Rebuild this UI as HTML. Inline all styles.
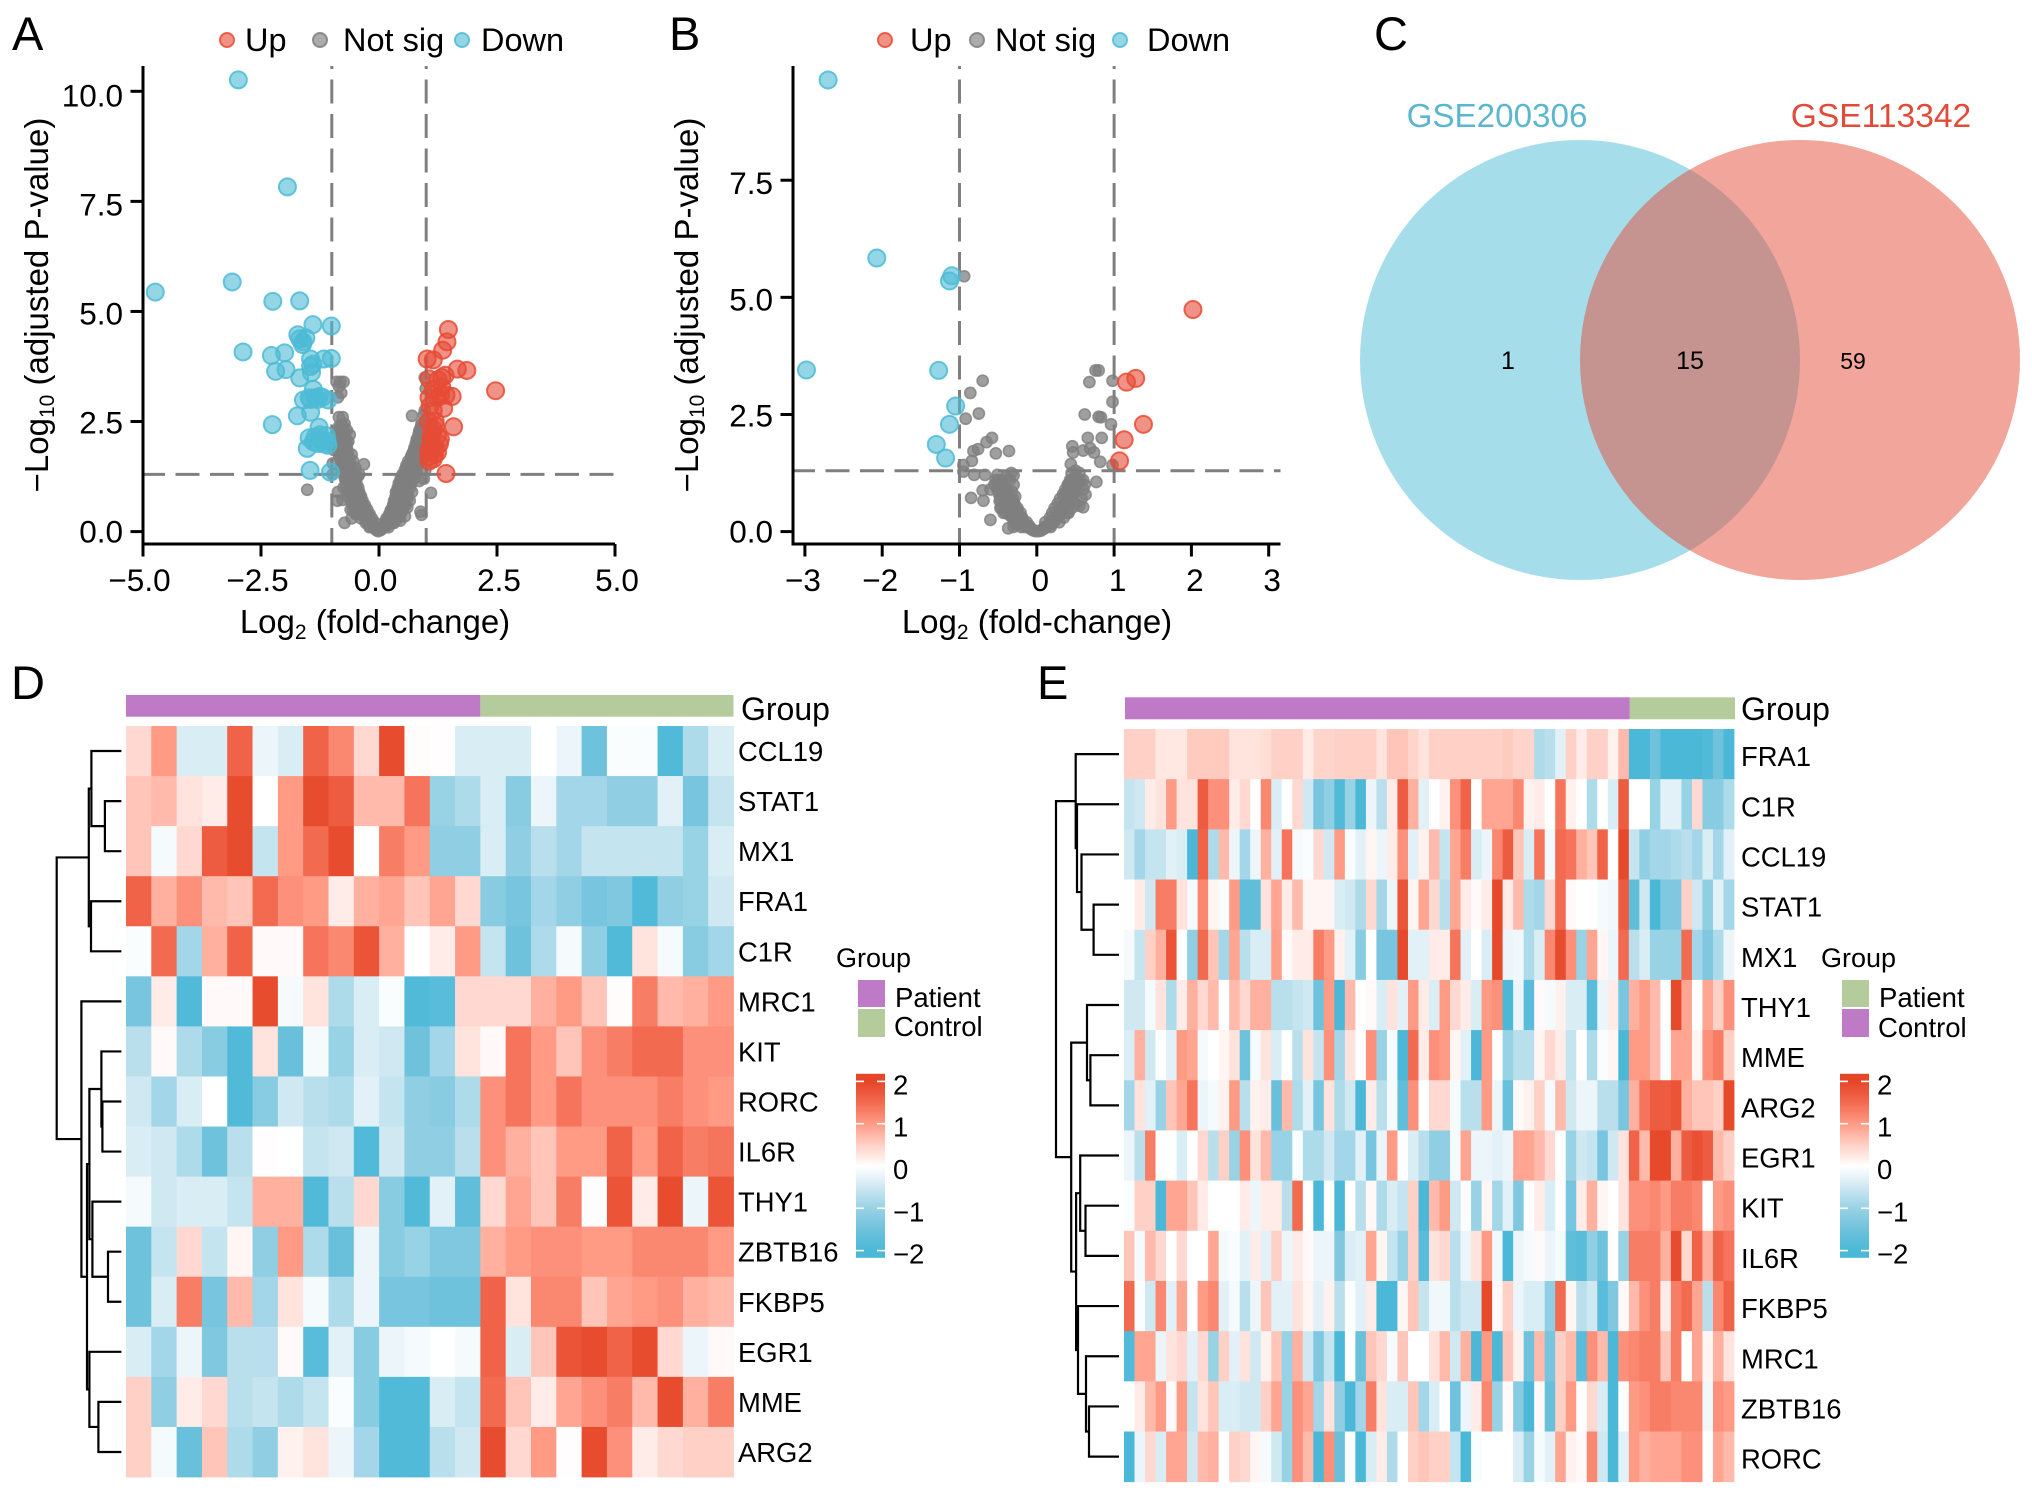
<!DOCTYPE html>
<html lang="en">
<head>
<meta charset="utf-8">
<title>Volcano plots, Venn diagram and heatmaps</title>
<style>
html,body{margin:0;padding:0;background:#fff;}
svg{display:block;font-family:"Liberation Sans",Arial,sans-serif;}
</style>
</head>
<body>
<svg id="fig" xmlns="http://www.w3.org/2000/svg" width="2032" height="1495" viewBox="0 0 2032 1495">
  <defs>
    <linearGradient id="ramp-d" x1="0" y1="0" x2="0" y2="1"></linearGradient>
    <linearGradient id="ramp-e" x1="0" y1="0" x2="0" y2="1"></linearGradient>
  </defs>
  <rect x="0" y="0" width="2032" height="1495" fill="#ffffff"/>

  <text x="12" y="50" font-size="47">A</text>
  <text x="669" y="50" font-size="47">B</text>
  <text x="1374" y="50" font-size="47">C</text>
  <text x="11" y="699" font-size="47">D</text>
  <text x="1037" y="699" font-size="47">E</text>

  <g id="panel-a">
    <text transform="translate(48,305) rotate(-90)" text-anchor="middle" font-size="33">−Log<tspan font-size="21" dy="6">10</tspan><tspan dy="-6"> (adjusted P-value)</tspan></text>
    <text x="375" y="633" text-anchor="middle" font-size="33">Log<tspan font-size="21" dy="6">2</tspan><tspan dy="-6"> (fold-change)</tspan></text>
    <text x="245" y="51" font-size="32.5">Up</text>
    <text x="343" y="51" font-size="32.5">Not sig</text>
    <text x="481" y="51" font-size="32.5">Down</text>
  </g>
  <g id="panel-b">
    <text transform="translate(698,305) rotate(-90)" text-anchor="middle" font-size="33">−Log<tspan font-size="21" dy="6">10</tspan><tspan dy="-6"> (adjusted P-value)</tspan></text>
    <text x="1037" y="633" text-anchor="middle" font-size="33">Log<tspan font-size="21" dy="6">2</tspan><tspan dy="-6"> (fold-change)</tspan></text>
    <text x="910" y="51" font-size="32.5">Up</text>
    <text x="995" y="51" font-size="32.5">Not sig</text>
    <text x="1147" y="51" font-size="32.5">Down</text>
  </g>

  <g id="panel-c">
    <circle cx="1580" cy="360" r="220" fill="#4DBBD5" fill-opacity="0.5"/>
    <circle cx="1800" cy="360" r="220" fill="#E64B35" fill-opacity="0.5"/>
    <text x="1497" y="127" text-anchor="middle" font-size="33.2" fill="#5BB7CF">GSE200306</text>
    <text x="1881" y="127" text-anchor="middle" font-size="33.6" fill="#E04B3A">GSE113342</text>
    <text x="1508" y="369" text-anchor="middle" font-size="25">1</text>
    <text x="1690" y="369" text-anchor="middle" font-size="25">15</text>
    <text x="1853" y="369" text-anchor="middle" font-size="23">59</text>
  </g>

  <g id="panel-d">
    <text x="741" y="720" font-size="32">Group</text>
    <text x="836" y="967" font-size="27">Group</text>
    <rect x="858" y="980" width="27" height="27" fill="#BE7AC6"/>
    <rect x="858" y="1009" width="27" height="28" fill="#B4CC9B"/>
    <text x="895" y="1007" font-size="27.5">Patient</text>
    <text x="894" y="1036" font-size="27.5">Control</text>
  </g>
  <g id="panel-e">
    <text x="1741" y="720" font-size="32">Group</text>
    <text x="1821" y="967" font-size="27">Group</text>
    <rect x="1842" y="980" width="27" height="27" fill="#B4CC9B"/>
    <rect x="1842" y="1009" width="27" height="28" fill="#BE7AC6"/>
    <text x="1879" y="1007" font-size="27.5">Patient</text>
    <text x="1878" y="1037" font-size="27.5">Control</text>
  </g>
</svg>

<script>
/* ---------- Volcano A data ---------- */
const aXTicks=[-5,-2.5,0,2.5,5];
const aXLabels=['−5.0','−2.5','0.0','2.5','5.0'];
const aYTicks=[0,2.5,5,7.5,10];
const aYLabels=['0.0','2.5','5.0','7.5','10.0'];
const aDownX=[-2.98,-1.94,-3.11,-4.74,-2.25,-1.68,-1.40,-1.01,-1.72,-1.61,-1.68,-2.88,-2.28,-2.0,-1.45,-1.01,-1.17,-2.19,-1.97,-1.43,-1.68,-1.39,-1.48,-1.26,-1.6,-1.35,-1.08,-1.73,-1.45,-2.26,-1.27,-1.48,-1.26,-1.12,-1.39,-1.17,-1.52,-1.08,-1.46,-1.03,-1.25,-1.3,-1.2,-1.35,-1.1,-1.45,-1.3,-1.2,-1.55,-1.62,-1.4,-1.45];
const aDownY=[10.26,7.83,5.67,5.44,5.23,5.24,4.70,4.67,4.47,4.31,4.38,4.08,4.0,4.06,3.92,3.93,3.92,3.64,3.68,3.61,3.49,3.23,3.04,3.07,2.99,3.04,2.99,2.63,2.71,2.43,2.37,2.13,2.08,2.18,2.04,1.99,1.89,1.96,1.39,1.35,2.2,2.0,2.05,2.15,2.05,3.0,3.0,3.05,4.4,4.25,3.8,3.75];
const aUpX=[1.47,1.44,1.35,1.02,1.15,1.66,1.86,1.33,1.06,2.47,1.33,1.15,1.55,1.24,1.06,1.37,1.15,1.19,1.58,1.15,1.24,1.1,1.28,1.15,1.24,1.06,1.15,1.06,1.42,1.1,1.2,1.05,1.12,1.2,1.05,1.3,1.18,1.08,1.25,1.4,1.42,1.3];
const aUpY=[4.59,4.31,4.12,3.92,3.9,3.69,3.66,3.5,3.47,3.2,3.28,3.23,3.07,3.04,3.04,2.8,2.75,2.51,2.38,2.32,2.18,2.13,1.99,1.89,1.8,1.7,1.65,1.6,1.32,2.0,1.9,1.85,2.25,2.4,2.5,2.1,1.75,2.85,3.45,3.55,3.1,3.1];
const aNsX=[-.02,-.05,-.08,-.1,-.13,-.15,-.18,-.2,-.22,-.25,-.27,-.3,-.3,-.33,-.35,-.37,-.4,-.4,-.42,-.45,-.47,-.5,-.5,-.5,-.53,-.55,-.55,-.58,-.6,-.6,-.6,-.62,-.65,-.65,-.65,-.32,-.45,-.42,-.68,-.7,-.7,-.72,-.72,-.72,-.75,-.75,-.75,-.78,-.8,-.8,-.82,-.85,-.62,-.65,-.58,-.55,-.5,-.68,-.73,-.77,-.85,-.75,-.9,-.85,-.8,-.87,-.82,-.93,-.95,-.98,-.98,-.87,-.77,-.73,-1.52,-.88,.03,.06,.1,.12,.15,.18,.2,.22,.25,.28,.3,.32,.35,.35,.38,.4,.42,.45,.45,.48,.5,.5,.52,.55,.55,.58,.6,.62,.65,.68,.7,.7,.72,.75,.78,.8,.82,.85,.85,.88,.9,.92,.95,.95,.7,.98,.98,.92,.85,.95,.98,1.1,.88,.9,.97,.99,.97,.4,.6,.65,.55,.3,.45];
const aNsY=[.01,.03,.06,.1,.15,.2,.12,.25,.35,.2,.4,.3,.5,.55,.4,.65,.5,.75,.85,.6,.95,.4,.8,1.05,1.15,.7,1.25,.3,.95,1.4,.5,1.15,1.5,.8,1.3,1.53,1.25,1.3,1.65,1.2,1.8,1.45,2.0,1.9,2.1,1.0,1.65,2.25,2.4,1.9,2.05,2.3,2.2,2.05,1.75,1.6,1.45,2.3,2.45,2.6,2.6,3.4,3.4,3.3,3.15,3.05,3.4,2.0,1.85,1.3,1.55,.9,.72,.2,.95,.7,.03,.06,.1,.2,.12,.28,.2,.38,.48,.32,.55,.65,.45,.78,.9,.6,1.0,.8,1.1,1.2,.5,1.0,1.3,.75,1.2,1.4,1.05,1.5,1.2,1.65,.9,1.75,1.35,1.85,1.55,2.0,2.1,2.25,1.8,2.35,2.45,2.15,2.65,2.0,2.63,2.5,2.35,1.75,1.15,1.2,1.4,.88,.45,.38,3.5,3.25,2.75,.3,.55,.7,.35,.2,.25];
const aNsDenseX=[-.1,-.2,.1,.2,-.08,-.15,-.28,.12,.25,.32,-.15,-.22,-.38,.16,.24,.38,-.2,-.32,-.46,.22,.36,.46,-.25,-.38,-.55,.26,.38,.5,-.3,-.38,-.55,.3,.45,.56,-.35,-.48,-.6,.32,.42,.58,-.38,-.46,-.56,.36,.5,.62,-.42,-.52,-.64,.36,.48,.6,-.44,-.55,-.68,.4,.56,.66,-.48,-.58,-.7,.42,.52,.68,-.5,-.6,-.72,.46,.6,.74,-.54,-.66,-.75,.5,.6,.72,-.55,-.68,-.78,.55,.65,.8,-.6,-.72,-.8,.58,.7,.82,-.62,-.7,-.8,.62,.72,.88,-.64,-.75,-.84,.68,.8,.9,-.66,-.76,-.85,.72,.82,.92,-.68,-.78,-.88,.75,.85,.95,-.68,-.8,.78,.88,.96,-.7,-.8,.8,.9,.98,-.72,-.84,.84,.92,-.75,-.8,.86,.96,-.76,-.84,.9,.96];
const aNsDenseY=[.1,.1,.1,.1,.2,.2,.2,.2,.2,.2,.3,.3,.3,.3,.3,.3,.4,.4,.4,.4,.4,.4,.5,.5,.5,.5,.5,.5,.6,.6,.6,.6,.6,.6,.7,.7,.7,.7,.7,.7,.8,.8,.8,.8,.8,.8,.9,.9,.9,.9,.9,.9,1,1,1,1,1,1,1.1,1.1,1.1,1.1,1.1,1.1,1.2,1.2,1.2,1.2,1.2,1.2,1.3,1.3,1.3,1.3,1.3,1.3,1.4,1.4,1.4,1.4,1.4,1.4,1.5,1.5,1.5,1.5,1.5,1.5,1.6,1.6,1.6,1.6,1.6,1.6,1.7,1.7,1.7,1.7,1.7,1.7,1.8,1.8,1.8,1.8,1.8,1.8,1.9,1.9,1.9,1.9,1.9,1.9,2,2,2,2,2,2.1,2.1,2.1,2.1,2.1,2.2,2.2,2.2,2.2,2.3,2.3,2.3,2.3,2.4,2.4,2.4,2.4];

/* ---------- Volcano B data ---------- */
const bXTicks=[-3,-2,-1,0,1,2,3];
const bXLabels=['−3','−2','−1','0','1','2','3'];
const bYTicks=[0,2.5,5,7.5];
const bYLabels=['0.0','2.5','5.0','7.5'];
const bDownX=[-2.7,-2.07,-1.1,-1.13,-2.98,-1.27,-1.05,-1.13,-1.3,-1.18];
const bDownY=[9.64,5.84,5.46,5.35,3.45,3.44,2.68,2.29,1.86,1.57];
const bUpX=[2.02,1.28,1.16,1.38,1.13,1.07];
const bUpY=[4.74,3.27,3.19,2.29,1.96,1.51];
const bNsX=[-.94,-.7,-.86,-.75,-.92,-.58,-.65,-.76,-.82,-.84,-.53,-.36,-.95,-.95,-.81,-.67,-.51,-.7,-.85,-.69,-.6,-.37,-.5,-.45,-.42,-.4,-.4,-.35,-.3,-.45,-.4,-.38,-.35,-.32,-.3,-.48,-.45,-.4,-.35,-.3,-.28,-.25,-.25,-.22,-.2,-.18,-.15,-.12,-.1,-.08,-.05,-.02,-.27,-.2,-.3,-.6,-.55,-.33,-.3,-.28,.66,.84,.62,.8,.83,.96,.68,.76,.8,.98,.98,.46,.69,.47,.6,.74,.82,.98,.44,.77,.63,.6,.5,.55,.45,.5,.47,.42,.45,.4,.38,.35,.32,.3,.3,.27,.25,.22,.2,.18,.15,.12,.1,.08,.05,.02,.35,.4,.5,.55,.58,.45,.5,.55,.6,.62,.6,.4,.35];
const bNsY=[5.45,3.22,2.96,2.52,2.41,2.0,1.91,1.76,1.72,1.51,1.67,1.72,1.42,1.28,1.21,1.21,1.21,.88,.72,.66,.25,.07,1.1,1.05,.95,.8,1.15,1.1,1.0,.8,.65,.55,.7,.85,.6,.65,.5,.4,.35,.4,.3,.45,.25,.3,.2,.25,.15,.1,.12,.06,.03,.01,.15,.1,.1,.9,1.0,1.25,1.2,.75,2.0,2.0,2.5,2.45,2.44,2.29,3.19,3.44,3.44,3.22,2.77,1.82,1.78,1.69,1.73,1.69,1.49,1.42,1.44,1.06,.79,.52,1.15,1.05,1.1,.95,.85,.95,.7,.8,.65,.55,.45,.5,.35,.4,.3,.2,.25,.15,.12,.1,.07,.05,.02,.01,.3,.4,.6,.55,.7,1.25,1.3,1.25,1.1,1.0,.9,1.0,.75];
const bNsDenseX=[-.09,-.16,.1,.18,-.13,-.23,-.3,.11,.21,.29,-.19,-.31,.17,.28,-.21,-.33,-.43,.2,.31,.41,-.25,-.37,-.47,.23,.35,.45,-.29,-.43,.27,.4,-.31,-.47,.3,.44,-.36,-.49,.34,.48,-.39,-.51,.37,.5,-.43,-.5,.41,.52,-.45,-.53,.43,.56];
const bNsDenseY=[.1,.1,.1,.1,.2,.2,.2,.2,.2,.2,.3,.3,.3,.3,.4,.4,.4,.4,.4,.4,.5,.5,.5,.5,.5,.5,.6,.6,.6,.6,.7,.7,.7,.7,.8,.8,.8,.8,.9,.9,.9,.9,1,1,1,1,1.1,1.1,1.1,1.1];

/* ---------- Heatmap D data ---------- */
const dGenes=['CCL19','STAT1','MX1','FRA1','C1R','MRC1','KIT','RORC','IL6R','THY1','ZBTB16','FKBP5','EGR1','MME','ARG2'];
const dPatientCount=14;
const dControlCount=10;
const dMatrix=[
[.4,1.0,-.4,-.4,1.6,-.2,-.4,1.6,1.2,.4,1.9,.03,.02,-.4,-.4,-.4,-.01,-.2,-1.5,-.05,-.05,-1.9,-.8,-.4],
[.6,.7,.3,.2,1.9,0,1.0,1.9,1.7,.7,.7,1.4,-1,-.8,-.4,-1.2,-.2,-.9,-.9,-1.1,-1.1,-.3,-1.4,-.6],
[.6,-.1,.4,1.7,1.9,-.6,1.0,1.5,1.9,0,1.3,1.0,-1.1,-1.1,-.4,-1.1,-.7,-.9,-.6,-.6,-.6,-.6,-1,-.4],
[1.6,.8,1.1,.7,.6,1.5,1.1,1.0,.2,.8,.9,.6,.9,.4,-1.2,-1.4,-.9,-1.1,-1.4,-1.3,-1.9,-1.1,-1,-.5],
[-.05,1.5,-.9,.8,1.6,.05,.05,1.4,1.2,1.8,.8,0,.2,1.0,-.6,-1.5,-.8,-.1,-1.1,-1.9,.3,-.1,-1.2,-.9],
[-1.4,.2,-1.9,.05,.05,1.9,-.1,.3,-.8,-.4,-.05,-1.9,-1.8,.4,.4,.4,.8,1.0,.6,.03,1.3,.7,.8,1.0],
[-.7,.05,-.8,-1.2,-1.9,.3,-1.6,-.1,-1,-.4,-.5,-1.5,-.9,.3,.05,1.4,1.0,.6,1.1,1.3,1.5,1.5,1.1,1.1],
[-.5,-.9,-.4,0,-1.9,-1.2,-.5,-.7,-.8,-.3,-.6,-1.1,-1.2,-.8,1.1,1.4,1.0,1.4,1.1,1.1,1.1,1.3,1.1,1.0],
[-.4,-.5,-.8,-1.5,-.7,.02,-.01,-.6,-.5,-1.9,-.5,-1.1,-1.1,-.7,1.1,.8,.6,1.0,1.0,1.6,1.0,1.6,1.3,1.4],
[-.1,-.5,-.4,-.4,-.6,.8,.8,-1.9,-.7,.4,-1.2,-1.9,-.3,-1.7,.4,.9,.6,1.3,.01,1.8,.2,1.9,-.2,1.8],
[-1.5,-.6,.4,-.6,.1,-1.1,1.0,-.8,-1.6,-.2,-1.2,-1,-1.3,-1.3,.8,1.0,1.1,1.1,1,1,1.2,1.2,1.2,1.0],
[-1.5,-.4,1.3,-1.4,.7,-.9,.3,-.1,-.8,-.2,-1.4,-1.4,-1.5,-1.5,1.6,.3,1.2,1.2,.6,.9,1,1.1,.8,.7],
[-.4,-.9,-.2,-1.3,-.7,-.7,.05,-1.8,-.3,-1.2,-.2,-.1,-.01,-.1,1.6,-.4,.6,1.8,1.9,1.6,1.9,.4,-.2,.05],
[.5,-1.1,.2,.4,-.7,-.6,-.8,-.6,-.05,-1.2,-1.9,-1.9,-.4,-.6,1.5,.6,.2,.9,1.1,1.3,.7,1.9,.8,1.3],
[.5,-.1,-1.6,.6,-.8,-1.1,.15,.3,-.2,-.9,-1.9,-1.9,-.7,-.5,1.9,.4,1.0,.02,1.9,1.1,.2,.4,.5,.5]
];
const dMergeLeft=[-2,-1,-4,2,-8,-7,-11,-10,6,-14,-13,9,-6,4];
const dMergeRight=[-3,1,-5,3,-9,5,-12,7,8,-15,10,11,12,13];
const dMergeHeight=[16.5,30,30.4,32.6,19,20,13.4,29,32,23,32,34.4,40,64.7];

/* ---------- Heatmap E data ---------- */
const eGenes=['FRA1','C1R','CCL19','STAT1','MX1','THY1','MME','ARG2','EGR1','KIT','IL6R','FKBP5','MRC1','ZBTB16','RORC'];
const ePatientCount=48;
const eControlCount=10;
const eMatrix=[
[.5,.5,.5,.25,.25,.25,.55,.55,.55,.55,.3,.3,.3,.35,.5,.5,.5,.2,.45,.45,.5,.5,.5,.5,.3,.6,.6,.45,.3,.5,.5,.5,.5,.5,.5,.5,.55,.45,.45,-.8,-.7,-.3,.5,.2,.5,.5,.15,.7,-2,-2,-1.5,-2,-2,-2,-2,-1.9,-1.5,-2],
[-.6,-.5,.2,.3,1.0,.3,.3,1.7,1.1,1.1,.2,.4,0,1.2,-.4,0,.4,-.5,-1.4,-1.1,-1.9,-1,-2,-.2,-.7,.2,1.7,.8,-.3,0,.15,1.1,1.6,0,.9,.9,.9,1.2,.15,.2,0,1.4,.15,0,-.8,0,-.4,1.7,0,0,-1.0,-.3,-.3,-1.0,.4,-1.2,-1.2,-.8],
[-.5,-.9,-.6,-.6,-.3,-.4,-2,1.6,-.8,.7,-.2,-.9,-.2,.8,-.3,1.4,-.1,-.05,.4,-.5,1.0,-.05,-.3,.1,-.2,.2,1.1,-.3,.15,.7,-.6,.9,1.3,-.4,-.2,1.2,1.7,.6,-.4,1.4,-.1,1.5,1.4,.8,.6,1.6,0,1.95,-.6,-1.1,-.9,-.9,-.8,-.7,-.9,-.4,-.9,-.3],
[0,.2,-.5,1.3,1.3,.3,-.1,1.2,.1,-.05,1.0,-1.7,-1.7,.3,.9,.2,.7,.1,.1,.1,-.4,-.5,-.8,.4,-.9,-.2,1.8,.1,.9,.4,-.7,.9,.2,.05,.2,1.95,.2,.7,-.8,-.9,.4,1.5,.05,0,0,-.1,-.15,1.7,-1.7,-.5,-2,-1.3,-1.3,.5,-.5,-1.1,-.3,-.9],
[-.1,-.6,.5,.8,1.8,0,-1.1,1.5,.6,-.9,.9,-.7,-.4,-.4,.95,.05,.2,.2,1.3,1.0,.15,-.3,-1.2,0,-1.4,-1.4,1.95,-.3,-.3,.2,.2,1.4,-.3,0,-.4,1.95,-.2,-.15,-.8,-.4,1.2,1.9,1.1,-1,.9,.1,-.2,1.5,-.7,-.4,-1,-1,-1,1.5,-.9,-1.3,-.8,-.2],
[-.5,-.5,-.1,.3,-.8,.2,.8,.4,.7,0,.7,.4,.8,.8,-.7,-.7,-.6,-.5,-1.5,1.0,-2,.7,0,.05,-.4,.3,-.3,1.0,.2,-.4,1.0,.4,.2,-.4,1.0,1.1,-2,-.2,-1.8,.05,-.1,.15,-.4,-.4,-1.8,-.2,.2,-1.4,.8,1.0,.7,0,1.95,.9,0,.9,.5,1.1],
[-.4,.8,-.5,0,-.3,1.0,.9,-.1,0,.1,.3,-1.5,-.1,.3,-.4,0,-.7,.3,-.6,1.1,-.9,.3,0,1.1,-1,-.1,-2,1.5,.2,1.1,1.0,.1,-.3,-2,1.0,0,-1,-.7,-.7,.1,.4,.2,-.6,0,-.8,-.05,.1,-2,1.0,1.0,.7,-.05,.9,.9,.1,1.1,1.3,.5],
[-.9,.3,-.3,-1.0,.6,.9,1.4,-.2,-.1,.15,1.0,-.7,.15,.2,-1.6,.7,-.8,-.3,-1.4,.3,-.8,-.5,-2,.2,-.7,-.1,-1.7,1.1,0,.4,.4,-.1,-.7,-.7,1.0,-.2,-1.6,.05,.15,.5,-.1,.7,-.5,-.2,-.2,-.7,-.7,-1.4,.8,1.4,1.7,1.7,1.8,.8,.6,.6,.5,1.95],
[-.2,-.7,1.3,0,0,-.4,0,.4,-.7,.5,-1,1.1,.3,.7,-1,-1,-.05,-.8,-.8,-.5,-.9,-.9,-.3,-1.4,-.2,1.0,0,-.4,-.7,-1.1,-1.1,-.1,.9,-.2,-.2,-.3,-.2,.9,.9,.7,.4,-.03,-1,-.5,-.6,-1.4,-.5,.3,1.6,.7,1.95,1.95,.8,1.7,1.85,1.7,.7,.5],
[-.05,.5,.5,-2,.9,.9,.6,.2,0,0,0,.2,-.2,.2,.2,-.7,1.5,0,-2,0,-2,0,-.7,.07,-.8,-.4,-.6,.5,-2,.7,1.0,-.5,-.03,-1,.1,-.9,-.3,-1.3,0,.2,-.4,0,-1.4,.2,.8,.1,0,.3,1.1,1.1,1.2,1,1.3,1.3,1.2,0,1.0,1.1],
[.6,-.1,.7,.4,0,.4,0,0,.9,-.1,-.05,-.3,.2,-.3,.5,-.2,.2,.05,-.2,-.2,-1.3,-.4,-.3,.9,.1,-.6,-1,.5,-1.8,.3,.4,-.7,-.2,.3,1.0,-.15,-2,-.2,-.1,.05,-.2,-.1,-1.7,-1.8,-1.1,-1.5,0,-1,1.3,1.3,1.3,.8,1.9,.4,1.6,.8,1.6,1.4],
[1.5,-.05,-.5,1.2,-.3,.9,0,1.0,1.2,-.3,-.1,-.7,-.2,.6,-.3,-.3,.3,.1,-.3,.15,-.7,-.03,-.3,.2,-2,-2,.1,.6,-.6,-.15,-.15,-.7,-.5,-.5,1.95,.05,.5,-.2,-.4,-.4,-1.1,1.5,.1,-.7,-.5,-1.8,-1.3,.05,.7,1.1,1.3,.2,1.3,1.5,.9,-.7,1.2,1.6],
[-1.9,.9,.9,-.2,.3,.4,-.3,.4,-1,.5,-.3,.3,-.5,.15,.6,-1,.8,-.5,-1.3,-.6,-2,0,-1.6,.6,.4,-.1,.6,0,0,.3,.7,-.5,.8,-2,1.0,-2,.6,.15,-1.5,.7,-1.4,.5,.7,-1.8,1.1,.7,-2,1.1,1.2,1.3,1.3,.6,1.3,0,.9,.1,.8,.3],
[0,.2,.7,1.0,.05,1.0,-.6,.3,.6,-.4,-.4,-.5,-.5,.5,.9,-1,1.1,.9,-.9,.3,-1.1,-2,-.9,1.3,.3,-.4,-.4,.6,-.9,-.4,0,-1.5,-.2,.2,1.2,-1,.05,-1.2,-2,.05,-1.6,.5,1.0,0,.4,-.4,-2,0,1.0,1.1,1.3,1.3,1.2,1.2,1.2,-.15,1.1,1.0],
[-2,-.2,.4,-.4,.9,.9,-.5,.7,.8,0,.5,.4,.1,-.1,-.5,-1,1.1,.7,-2,1.1,-1.6,-.05,-2,-.4,.2,-.8,0,.5,.6,.5,.5,-.6,-2,-.05,0,0,0,-.4,-1,-.1,-.3,.9,.15,.05,1.2,-.5,-2,-.3,1.0,.8,.9,.9,.9,1.1,1.1,0,.9,.7]
];
const eMergeLeft=[-4,-3,-2,-1,-7,-6,-10,-9,-14,-13,-12,8,6,4];
const eMergeRight=[-5,1,2,3,-8,5,-11,7,-15,9,10,11,12,13];
const eMergeHeight=[25.4,37.5,42,43.3,28.6,32,33.5,38.8,30,33,41,42.9,47.8,63];

/* ---------- Colour scale ticks ---------- */
const scaleTicks=[2,1,0,-1,-2];
const scaleLabels=['2','1','0','−1','−2'];

/* ---------- Drawing ---------- */
const NS='http://www.w3.org/2000/svg';
function mk(tag,attrs,parent){
  const el=document.createElementNS(NS,tag);
  for(const k in attrs){el.setAttribute(k,attrs[k]);}
  parent.appendChild(el);
  return el;
}
const rampStops=[[-2,[75,184,216]],[-1.5,[111,194,220]],[-1,[152,210,229]],[-.5,[207,232,242]],[0,[255,255,255]],[.5,[255,208,197]],[1,[255,154,133]],[1.5,[242,106,80]],[2,[230,69,39]]];
function heatColor(v){
  const t=Math.max(-2,Math.min(2,v));
  for(let i=0;i<rampStops.length-1;i++){
    const a=rampStops[i],b=rampStops[i+1];
    if(t<=b[0]){
      const f=(t-a[0])/(b[0]-a[0]);
      const c=a[1].map((q,j)=>Math.round(q+(b[1][j]-q)*f));
      return 'rgb('+c.join(',')+')';
    }
  }
  return 'rgb(230,69,39)';
}

function drawVolcano(o){
  const g=o.group;
  const sx=v=>o.x0+v*o.xUnit;
  const sy=v=>o.y0-v*o.yUnit;
  const dashV=[-1,1];
  dashV.forEach(v=>{
    const l=mk('line',{x1:sx(v),x2:sx(v),y1:o.top,y2:o.bottom,stroke:'#7f7f7f','stroke-width':3,'stroke-dasharray':'24 10.5','stroke-dashoffset':21},g);
    
    
  });
  const hl=mk('line',{x1:o.left,x2:o.right,y1:sy(1.3),y2:sy(1.3),stroke:'#7f7f7f','stroke-width':3,'stroke-dasharray':'24 10.5','stroke-dashoffset':o.hOffset},g);
  
  

  o.nsX.forEach((x,i)=>{
    const c=mk('circle',{cx:sx(x),cy:sy(o.nsY[i]),r:5.6,fill:'#7f7f7f','fill-opacity':.75,stroke:'#7f7f7f','stroke-opacity':.8,'stroke-width':1.6},g);
    
    
  });
  o.downX.forEach((x,i)=>{
    const c=mk('circle',{cx:sx(x),cy:sy(o.downY[i]),r:8.5,fill:'#4DBBD5','fill-opacity':.6,stroke:'#4DBBD5','stroke-opacity':.85,'stroke-width':2},g);
    
    
  });
  o.upX.forEach((x,i)=>{
    const c=mk('circle',{cx:sx(x),cy:sy(o.upY[i]),r:8.5,fill:'#E64B35','fill-opacity':.6,stroke:'#E64B35','stroke-opacity':.85,'stroke-width':2},g);
    
    
  });

  const ya=mk('line',{x1:o.left,x2:o.left,y1:o.top,y2:o.bottom+1.5,stroke:'#000','stroke-width':3},g);
  
  
  const xa=mk('line',{x1:o.left,x2:o.right,y1:o.bottom,y2:o.bottom,stroke:'#000','stroke-width':3},g);
  
  

  o.xTicks.forEach((v,i)=>{
    const t=mk('line',{x1:sx(v),x2:sx(v),y1:o.bottom,y2:o.bottom+12.5,stroke:'#000','stroke-width':3},g);
    
    
    const lb=mk('text',{x:sx(v)+(v>o.xSplit?o.xShiftPos:o.xShiftNeg),y:591,'text-anchor':'middle','font-size':31.5},g);
    lb.textContent=o.xLabels[i];
    
    
  });
  o.yTicks.forEach((v,i)=>{
    const t=mk('line',{x1:o.left-12.5,x2:o.left,y1:sy(v),y2:sy(v),stroke:'#000','stroke-width':3},g);
    
    
    const lb=mk('text',{x:o.left-20,y:sy(v)+11+v*.4,'text-anchor':'end','font-size':31.5},g);
    lb.textContent=o.yLabels[i];
    
    
  });

  const lu=mk('circle',{cx:o.legendUp,cy:40,r:7,fill:'#E64B35','fill-opacity':.6,stroke:'#E64B35','stroke-opacity':.85,'stroke-width':2},g);
  
  
  const ln=mk('circle',{cx:o.legendNs,cy:40,r:7,fill:'#7f7f7f','fill-opacity':.65,stroke:'#7f7f7f','stroke-opacity':.85,'stroke-width':2},g);
  
  
  const ld=mk('circle',{cx:o.legendDown,cy:40,r:7,fill:'#4DBBD5','fill-opacity':.6,stroke:'#4DBBD5','stroke-opacity':.85,'stroke-width':2},g);
  
  
}

function drawHeatmap(o){
  const g=o.group;
  const cols=o.matrix[0].length;
  const cw=(o.right-o.left)/cols;
  const rh=(o.bottom-o.top)/o.matrix.length;
  const bp=mk('rect',{x:o.barLeft,y:o.barTop,width:o.patientCount*cw,height:o.barHeight,fill:'#BE7AC6'},g);
  
  
  const bc=mk('rect',{x:o.barLeft+o.patientCount*cw,y:o.barTop,width:o.controlCount*cw,height:o.barHeight,fill:'#B4CC9B'},g);
  
  

  o.matrix.forEach((row,r)=>{
    row.forEach((v,c)=>{
      const cell=mk('rect',{x:o.left+c*cw,y:o.top+r*rh,width:cw+.4,height:rh+.4,fill:heatColor(v)},g);
      
      
    });
  });
  o.genes.forEach((name,r)=>{
    const t=mk('text',{x:o.labelX,y:o.top+(r+.5)*rh+o.labelDy,'font-size':27.4},g);
    t.textContent=name;
    
    
  });

  const nodeY=[];
  const nodeH=[];
  const place=id=>id<0?{y:o.top+(-id-.5)*rh,h:0}:{y:nodeY[id-1],h:nodeH[id-1]};
  o.mergeLeft.forEach((a,i)=>{
    const pa=place(a);
    const pb=place(o.mergeRight[i]);
    const h=o.mergeHeight[i];
    const x=o.leafX-h;
    const d='M'+(o.leafX-pa.h)+' '+pa.y+'H'+x+'V'+pb.y+'H'+(o.leafX-pb.h);
    const p=mk('path',{d:d,fill:'none',stroke:'#000','stroke-width':2.2},g);
    
    
    nodeY[i]=(pa.y+pb.y)/2;
    nodeH[i]=h;
  });

  const grad=document.getElementById(o.gradId);
  for(let k=0;k<=44;k++){
    const v=2.18-k*(4.35/44);
    const s=mk('stop',{offset:(k/44),'stop-color':heatColor(v)},grad);
    
    
  }
  const cy=v=>1166-v*42.3;
  const bar=mk('rect',{x:o.cbX,y:cy(2.18),width:29,height:cy(-2.17)-cy(2.18),fill:'url(#'+o.gradId+')'},g);
  
  
  scaleTicks.forEach((v,i)=>{
    const t1=mk('line',{x1:o.cbX,x2:o.cbX+8,y1:cy(v),y2:cy(v),stroke:'#fff','stroke-width':1.6},g);
    
    
    const t2=mk('line',{x1:o.cbX+21,x2:o.cbX+29,y1:cy(v),y2:cy(v),stroke:'#fff','stroke-width':1.6},g);
    
    
    const lb=mk('text',{x:o.cbX+37,y:cy(v)+13,'font-size':27.5},g);
    lb.textContent=scaleLabels[i];
    
    
  });
}

drawVolcano({group:document.getElementById('panel-a'),x0:379,xUnit:47.2,y0:531.6,yUnit:44.03,left:143,right:615,top:66,bottom:544,hOffset:2,
  nsX:aNsX.concat(aNsDenseX),nsY:aNsY.concat(aNsDenseY),upX:aUpX,upY:aUpY,downX:aDownX,downY:aDownY,xTicks:aXTicks,xLabels:aXLabels,yTicks:aYTicks,yLabels:aYLabels,xSplit:0,xShiftPos:2,xShiftNeg:-3.5,
  legendUp:227,legendNs:320,legendDown:462});
drawVolcano({group:document.getElementById('panel-b'),x0:1036.8,xUnit:77.3,y0:531.6,yUnit:46.85,left:793,right:1280.5,top:66,bottom:544,hOffset:2,
  nsX:bNsX.concat(bNsDenseX),nsY:bNsY.concat(bNsDenseY),upX:bUpX,upY:bUpY,downX:bDownX,downY:bDownY,xTicks:bXTicks,xLabels:bXLabels,yTicks:bYTicks,yLabels:bYLabels,xSplit:-.5,xShiftPos:3.5,xShiftNeg:-2,
  legendUp:885,legendNs:977,legendDown:1120});
drawHeatmap({group:document.getElementById('panel-d'),matrix:dMatrix,genes:dGenes,left:126,right:733.5,top:726,bottom:1477,barLeft:126,barTop:695,barHeight:21.7,
  patientCount:dPatientCount,controlCount:dControlCount,labelX:738,labelDy:10,leafX:121.4,mergeLeft:dMergeLeft,mergeRight:dMergeRight,mergeHeight:dMergeHeight,gradId:'ramp-d',cbX:856});
drawHeatmap({group:document.getElementById('panel-e'),matrix:eMatrix,genes:eGenes,left:1124,right:1734,top:729,bottom:1481.7,barLeft:1125,barTop:697.3,barHeight:22,
  patientCount:ePatientCount,controlCount:eControlCount,labelX:1741,labelDy:12,leafX:1119,mergeLeft:eMergeLeft,mergeRight:eMergeRight,mergeHeight:eMergeHeight,gradId:'ramp-e',cbX:1840});
</script>
</body>
</html>
